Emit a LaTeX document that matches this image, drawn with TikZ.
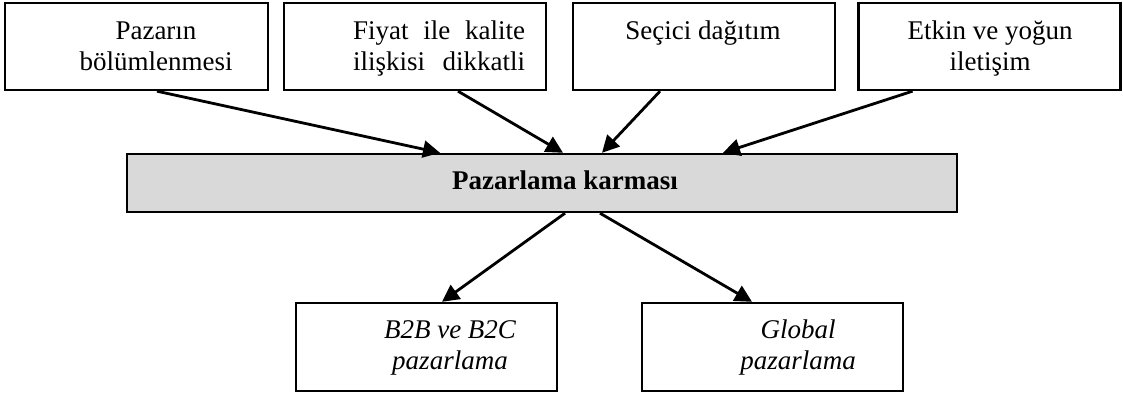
\documentclass[tikz,border=0pt]{standalone}
\usepackage{fontspec}
\setmainfont{Liberation Serif}
\usetikzlibrary{arrows.meta}
\begin{document}
\begin{tikzpicture}[x=0.5pt,y=-0.5pt,
  box/.style={draw=black,line width=1.2pt,inner sep=0pt,rectangle},
  txt/.style={inner sep=0pt,align=center,anchor=north,font=\fontsize{13.5}{15.2}\selectfont},
  conn/.style={line width=1.4pt,-{Triangle[length=8.5pt,width=8.5pt]}}]
\useasboundingbox (0,0) rectangle (1123,395);
% top boxes
\node[box,minimum width=131.5pt,minimum height=43.5pt] (b1) at (136.5,46.5) {};
\node[box,minimum width=131pt,minimum height=43.5pt] (b2) at (415,46.5) {};
\node[box,minimum width=131pt,minimum height=43.5pt] (b3) at (704,46.5) {};
\node[box,minimum width=131pt,minimum height=43.5pt] (b4) at (989.5,46.5) {};
\node[txt] (t1) at (156,18) {\strut Pazarın\\bölümlenmesi};
\node[txt] (t2) at (439,18) {\strut\makebox[86pt][s]{Fiyat ile kalite}\\\makebox[86pt][s]{ilişkisi dikkatli}};
\node[txt] (t3) at (703,18) {\strut Seçici dağıtım};
\node[txt] (t4) at (990,18) {\strut Etkin ve yoğun\\iletişim};
% bar
\node[box,fill=black!15,minimum width=415pt,minimum height=29pt] (bar) at (542,183) {};
\node[inner sep=0pt,anchor=base,font=\fontsize{13.5}{15.2}\selectfont\bfseries] (tbar) at (565,190) {Pazarlama karması};
% bottom boxes
\node[box,minimum width=130.5pt,minimum height=44pt] (b5) at (426.5,347) {};
\node[box,minimum width=130.5pt,minimum height=44pt] (b6) at (772.5,347) {};
\node[txt,font=\fontsize{13.5}{15.2}\selectfont\itshape] (t5) at (450,317) {\strut B2B ve B2C\\pazarlama};
\node[txt,font=\fontsize{13.5}{15.2}\selectfont\itshape] (t6) at (798,317) {\strut Global\\pazarlama};
% connectors
\draw[conn] ([xshift=10.25pt]b1.south) -- ([xshift=-51pt]bar.north);
\draw[conn] ([xshift=21.5pt]b2.south) -- ([xshift=10.5pt]bar.north);
\draw[conn] ([xshift=-22pt]b3.south) -- ([xshift=30pt]bar.north);
\draw[conn] ([xshift=-38.5pt]b4.south) -- ([xshift=90.5pt]bar.north);
\draw[conn] ([xshift=11.5pt]bar.south) -- ([xshift=7.75pt]b5.north);
\draw[conn] ([xshift=29pt]bar.south) -- ([xshift=-10.25pt]b6.north);
\end{tikzpicture}
\end{document}
